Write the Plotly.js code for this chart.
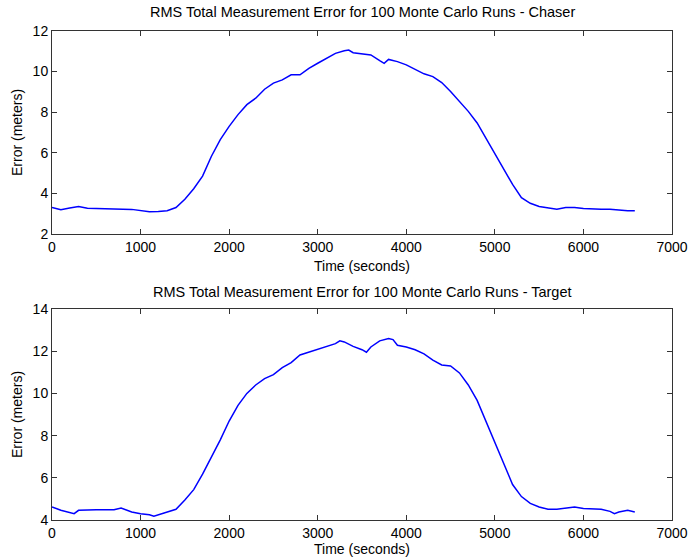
<!DOCTYPE html>
<html>
<head>
<meta charset="utf-8">
<script src="https://cdn.plot.ly/plotly-3.0.1.min.js"></script>
<style>html,body{margin:0;padding:0;background:#fff;}#chart{width:688px;height:560px;}</style>
</head>
<body>
<div id="chart"></div>
<script>
var chaserTime = [0,100,200,300,400,500,600,700,800,900,1000,1100,1200,1300,1400,1500,1600,1700,1800,1900,2000,2100,2200,2300,2400,2500,2600,2700,2800,2900,3000,3100,3200,3300,3350,3400,3500,3600,3700,3750,3800,3900,4000,4100,4200,4300,4400,4500,4600,4700,4800,4900,5000,5100,5200,5300,5400,5500,5600,5700,5800,5900,6000,6100,6200,6300,6400,6500,6580];
var chaserError = [3.30,3.19,3.28,3.35,3.27,3.25,3.26,3.22,3.22,3.21,3.14,3.09,3.11,3.14,3.30,3.71,4.23,4.85,5.83,6.65,7.30,7.88,8.37,8.69,9.13,9.43,9.59,9.84,9.84,10.16,10.41,10.65,10.90,11.03,11.06,10.93,10.87,10.82,10.54,10.41,10.60,10.49,10.33,10.11,9.89,9.75,9.46,9.02,8.53,8.04,7.47,6.73,5.92,5.18,4.44,3.79,3.51,3.35,3.30,3.22,3.30,3.30,3.25,3.22,3.22,3.22,3.17,3.14,3.14];

var targetTime = [0,100,250,300,500,700,780,900,1000,1100,1150,1200,1300,1400,1500,1600,1700,1800,1900,2000,2100,2200,2300,2400,2500,2600,2700,2800,2900,3000,3100,3200,3250,3300,3400,3500,3550,3600,3700,3800,3850,3900,4000,4100,4200,4300,4400,4500,4600,4700,4800,4900,5000,5100,5200,5300,5400,5500,5600,5700,5800,5900,6000,6100,6200,6300,6350,6400,6500,6580];
var targetError = [4.62,4.46,4.30,4.46,4.49,4.49,4.57,4.38,4.30,4.25,4.18,4.25,4.38,4.51,4.95,5.44,6.17,6.98,7.80,8.69,9.43,10.00,10.40,10.70,10.89,11.22,11.46,11.82,11.95,12.07,12.20,12.36,12.49,12.44,12.23,12.07,11.95,12.20,12.49,12.60,12.55,12.28,12.20,12.07,11.87,11.58,11.35,11.30,10.97,10.40,9.67,8.69,7.64,6.66,5.68,5.11,4.79,4.62,4.51,4.51,4.57,4.62,4.54,4.54,4.51,4.41,4.30,4.38,4.46,4.38];

var xTicks = [0,1000,2000,3000,4000,5000,6000,7000];
var yTicksChaser = [2,4,6,8,10,12];
var yTicksTarget = [4,6,8,10,12,14];

var titleChaser = 'RMS Total Measurement Error for 100 Monte Carlo Runs - Chaser';
var titleTarget = 'RMS Total Measurement Error for 100 Monte Carlo Runs - Target';
var xLabel = 'Time (seconds)';
var yLabel = 'Error (meters)';

var fontFam = 'Liberation Sans, Arial, sans-serif';
var lineStyle = {color: '#0000ff', width: 1.5};

var traces = [
  {x: chaserTime, y: chaserError, type: 'scatter', mode: 'lines', line: lineStyle, xaxis: 'x', yaxis: 'y', hoverinfo: 'skip'},
  {x: targetTime, y: targetError, type: 'scatter', mode: 'lines', line: lineStyle, xaxis: 'x2', yaxis: 'y2', hoverinfo: 'skip'}
];

function xAx(anchor, standoff) {
  return {
    anchor: anchor, range: [0, 7000], tickvals: xTicks, ticktext: xTicks.map(String),
    showgrid: false, zeroline: false, showline: true, linecolor: '#333', linewidth: 1,
    mirror: 'ticks', ticks: 'inside', ticklen: 5, tickcolor: '#333',
    tickfont: {family: fontFam, size: 14, color: '#000'},
    title: {text: xLabel, font: {family: fontFam, size: 14, color: '#000'}, standoff: standoff}
  };
}
function yAx(anchor, domain, range, ticks) {
  return {
    anchor: anchor, domain: domain, range: range, tickvals: ticks, ticktext: ticks.map(String),
    showgrid: false, zeroline: false, showline: true, linecolor: '#333', linewidth: 1,
    mirror: 'ticks', ticks: 'inside', ticklen: 5, tickcolor: '#333',
    tickfont: {family: fontFam, size: 14, color: '#000'},
    title: {text: yLabel, font: {family: fontFam, size: 14, color: '#000'}, standoff: 6}
  };
}

var layout = {
  width: 688, height: 560,
  margin: {l: 52, r: 16, t: 31, b: 40},
  paper_bgcolor: '#fff', plot_bgcolor: '#fff',
  showlegend: false,
  xaxis: xAx('y', 7),
  yaxis: yAx('x', [0.585, 1], [2, 12], yTicksChaser),
  xaxis2: xAx('y2', 3),
  yaxis2: yAx('x2', [0, 0.4315], [4, 14], yTicksTarget),
  annotations: [
    {text: titleChaser, xref: 'paper', yref: 'paper', x: 0.5, y: 1, yanchor: 'middle', yshift: 19, showarrow: false, font: {family: fontFam, size: 14.5, color: '#000'}},
    {text: titleTarget, xref: 'paper', yref: 'paper', x: 0.5, y: 0.4315, yanchor: 'middle', yshift: 17, showarrow: false, font: {family: fontFam, size: 14.5, color: '#000'}}
  ]
};

Plotly.newPlot('chart', traces, layout, {staticPlot: true, displayModeBar: false});
</script>
</body>
</html>
